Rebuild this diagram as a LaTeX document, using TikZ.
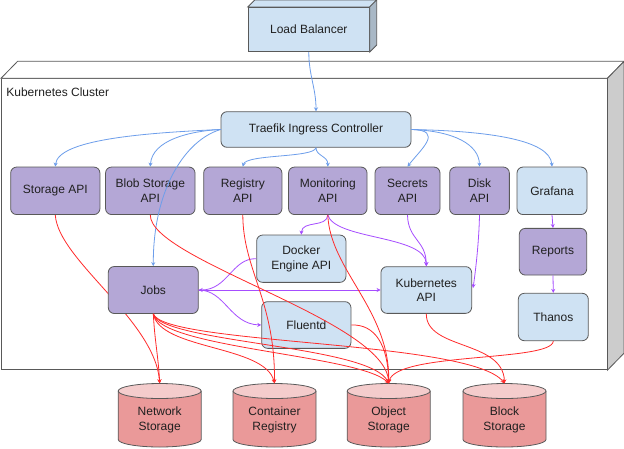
\documentclass[tikz,border=0pt]{standalone}
\usepackage{fontspec}
\setmainfont{Liberation Sans}
\usetikzlibrary{arrows.meta,calc}
\pgfdeclarelayer{bg}
\pgfsetlayers{bg,main}
\definecolor{lbfill}{HTML}{CFE2F3}
\definecolor{pufill}{HTML}{B4A7D6}
\definecolor{cylbody}{HTML}{EA9999}
\definecolor{cyltop}{HTML}{F4CCCC}
\definecolor{bd}{HTML}{595959}
\definecolor{ablue}{HTML}{6D9EEB}
\definecolor{apurple}{HTML}{A64DFF}
\definecolor{ared}{HTML}{FF2A2A}
\definecolor{sidegrey}{HTML}{CCCCCC}
\definecolor{lbside}{HTML}{A9B8C6}
\definecolor{txt}{HTML}{202020}
\newcommand\mycyl[4]{% name, cx, label-node name, label
  \fill[cylbody] (#2-41.5,391) -- (#2-41.5,439.5) arc[start angle=180,end angle=360,x radius=41.5pt,y radius=7.5pt] -- (#2+41.5,391) -- cycle;
  \draw[bd,line width=0.8pt] (#2-41.5,391) -- (#2-41.5,439.5) arc[start angle=180,end angle=360,x radius=41.5pt,y radius=7.5pt] -- (#2+41.5,391);
  \draw[bd,line width=0.8pt,fill=cyltop] (#2,391) ellipse[x radius=41.5pt,y radius=7.5pt];
  \node[minimum width=83pt,minimum height=63.5pt,inner sep=0pt] (#1) at (#2,415.3) {};
  \node[align=center,inner sep=0pt] (#3) at (#2,420) {#4};
}
\begin{document}
\begin{tikzpicture}[x=1pt,y=-1pt,
  every node/.style={font=\fontsize{12}{14.4}\selectfont, text=txt},
  box/.style={draw=bd, line width=0.8pt, rounded corners=6pt, align=center, inner sep=0pt},
  bluebox/.style={box, fill=lbfill},
  purplebox/.style={box, fill=pufill},
  blueln/.style={draw=ablue, line width=0.8pt, -{Stealth[length=4pt,width=4pt]}},
  purpleln/.style={draw=apurple, line width=0.8pt, -{Stealth[length=4pt,width=4pt]}},
  redln/.style={draw=ared, line width=0.8pt, -{Stealth[length=4pt,width=4pt]}},
]
\useasboundingbox (0,0) rectangle (624,448);

% Load balancer (3D box)
\node[draw=bd, line width=0.8pt, fill=lbfill, minimum width=121pt, minimum height=44.4pt, inner sep=0pt] (lbal) at (308.8,29.5) {Load Balancer};
\draw[bd, line width=0.8pt, fill=lbfill] (lbal.north west) -- ++(7,-7) -- ($(lbal.north east)+(7,-7)$) -- (lbal.north east) -- cycle;
\draw[bd, line width=0.8pt, fill=lbside] (lbal.north east) -- ++(7,-7) -- ($(lbal.south east)+(7,-7)$) -- (lbal.south east) -- cycle;

% Cluster
\begin{pgfonlayer}{bg}
\node[draw=bd, line width=0.8pt, fill=white, minimum width=605.7pt, minimum height=291pt, anchor=north west, inner sep=0pt] (cl) at (1,78.3) {};
\draw[bd, line width=0.8pt, fill=white] (cl.north west) -- ++(16.6,-17) -- ($(cl.north east)+(16.6,-17)$) -- (cl.north east) -- cycle;
\draw[bd, line width=0.8pt, fill=sidegrey] (cl.north east) -- ++(16.6,-17) -- ($(cl.south east)+(16.6,-17)$) -- (cl.south east) -- cycle;
\end{pgfonlayer}
\node[anchor=west, inner sep=0pt] (cllabel) at (6.2,92) {Kubernetes Cluster};

% Nodes
\node[bluebox, minimum width=190pt, minimum height=35.6pt] (tr) at (316,129.5) {Traefik Ingress Controller};
\node[purplebox, minimum width=89.3pt, minimum height=47.5pt] (sto) at (55.3,190.8) {Storage API};
\node[purplebox, minimum width=89.5pt, minimum height=47.5pt] (blob) at (150.3,190.8) {Blob Storage\\API};
\node[purplebox, minimum width=78.3pt, minimum height=47.5pt] (reg) at (242.8,190.8) {Registry\\API};
\node[purplebox, minimum width=78.5pt, minimum height=47.5pt] (mon) at (327.8,190.8) {Monitoring\\API};
\node[purplebox, minimum width=65pt, minimum height=47.5pt] (sec) at (407.5,190.8) {Secrets\\API};
\node[purplebox, minimum width=59.7pt, minimum height=47.5pt] (disk) at (479.5,190.8) {Disk\\API};
\node[bluebox, minimum width=70pt, minimum height=47.5pt] (graf) at (552,190.8) {Grafana};
\node[bluebox, minimum width=89.3pt, minimum height=47.3pt] (dock) at (301.3,258.7) {Docker\\Engine API};
\node[purplebox, minimum width=90pt, minimum height=47pt] (jobs) at (153.3,290) {Jobs};
\node[bluebox, minimum width=90.7pt, minimum height=46.7pt] (k8s) at (426.3,290) {Kubernetes\\API};
\node[bluebox, minimum width=89.3pt, minimum height=46.7pt] (flu) at (306.3,325) {Fluentd};
\node[purplebox, minimum width=67.4pt, minimum height=46.7pt] (rep) at (553,251.7) {Reports};
\node[bluebox, minimum width=70pt, minimum height=47.4pt] (than) at (553.3,317) {Thanos};

% Cylinders
\mycyl{ns}{159.7}{nst}{Network\\Storage}
\mycyl{cr}{274.5}{crt}{Container\\Registry}
\mycyl{os}{388.7}{ost}{Object\\Storage}
\mycyl{bs}{504.5}{bst}{Block\\Storage}

% Storage API line passes behind Jobs
\begin{pgfonlayer}{bg}
\draw[redln] (sto.south) .. controls (58,260) and (155,320) .. (ns.north);
\end{pgfonlayer}

% Blue connectors
\draw[blueln] (lbal.south) to[out=-90,in=90] (tr.north);
\draw[blueln] (tr.west) .. controls (140,133) and (58,140) .. (sto.north);
\draw[blueln] (tr.west) .. controls (190,131) and (152,140) .. (blob.north);
\draw[blueln] (tr.west) .. controls (185,140) and (153,190) .. (jobs.north);
\draw[blueln] (tr.south) .. controls (314,158) and (246,154) .. (reg.north);
\draw[blueln] (tr.south) .. controls (316,156) and (328,156) .. (mon.north);
\draw[blueln] (tr.east) .. controls (445,130) and (420,150) .. (sec.north);
\draw[blueln] (tr.east) .. controls (455,131) and (479,145) .. (disk.north);
\draw[blueln] (tr.east) .. controls (490,131) and (550,140) .. (graf.north);

% Purple connectors
\draw[purpleln] (mon.south) .. controls (327,228) and (302,220) .. (dock.north);
\draw[purpleln] (mon.south) .. controls (335,240) and (426,235) .. (k8s.north);
\draw[purpleln] (sec.south) .. controls (408,240) and (426,240) .. (k8s.north);
\draw[purpleln] (disk.south) .. controls (479,240) and (476,268) .. ($(k8s.east)+(1,-2)$);
\draw[purpleln] (graf.south) -- (rep.north);
\draw[purpleln] (rep.south) -- (than.north);
\draw[purpleln] (dock.west) .. controls (232,258) and (228,290) .. (jobs.east);
\draw[purpleln] (jobs.east) -- (k8s.west);
\draw[purpleln] (jobs.east) .. controls (225,290) and (230,324) .. (flu.west);

% Red connectors
\draw[redln] (jobs.south) to[out=-87,in=93] (ns.north);
\draw[redln] (jobs.south) .. controls (160,350) and (265,345) .. (cr.north);
\draw[redln] (jobs.south) .. controls (160,348) and (360,355) .. (os.north);
\draw[redln] (jobs.south) .. controls (163,343) and (370,345) .. (os.north);
\draw[redln] (jobs.south) .. controls (165,345) and (470,340) .. (bs.north);
\draw[redln] (blob.south) .. controls (150,260) and (385,320) .. (os.north);
\draw[redln] (reg.south) .. controls (243,270) and (275,300) .. (cr.north);
\draw[redln] (mon.south) .. controls (330,270) and (390,310) .. (os.north);
\draw[redln] (flu.east) .. controls (375,324) and (388,345) .. (os.north);
\draw[redln] (k8s.south) .. controls (426,350) and (503,340) .. (bs.north);
\draw[redln] (than.south) .. controls (552,362) and (395,352) .. (os.north);
\end{tikzpicture}
\end{document}
